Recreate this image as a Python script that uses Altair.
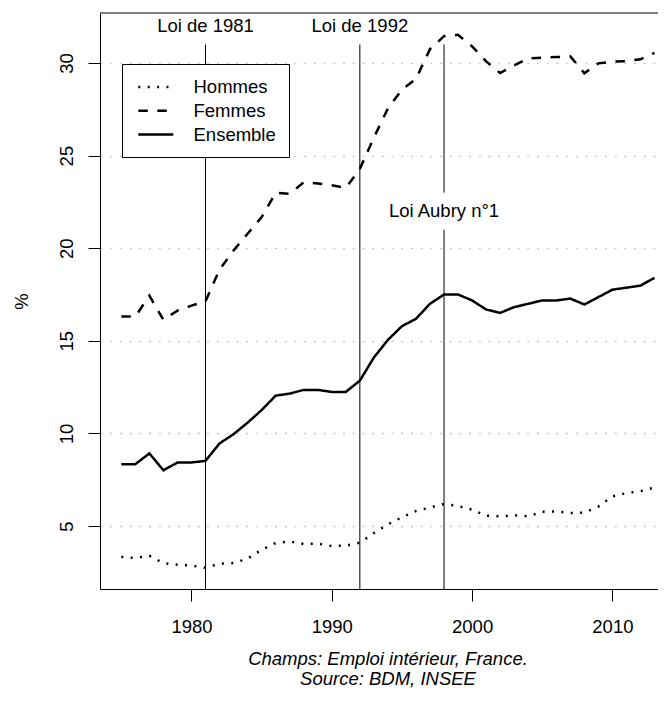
import altair as alt
import pandas as pd

years = list(range(1975, 2014))
hommes = [3.33, 3.27, 3.39, 3.00, 2.91, 2.87, 2.75, 2.97, 3.00, 3.24,
          3.72, 4.08, 4.17, 4.03, 4.05, 3.92, 3.94, 4.10, 4.62, 5.09,
          5.47, 5.81, 6.00, 6.19, 6.08, 5.88, 5.56, 5.52, 5.58, 5.52,
          5.77, 5.79, 5.70, 5.72, 6.05, 6.60, 6.78, 6.88, 7.08]
femmes = [16.31, 16.31, 17.44, 16.13, 16.63, 16.90, 17.14, 18.84, 19.88, 20.78,
          21.68, 22.99, 22.93, 23.56, 23.50, 23.40, 23.25, 24.28, 25.97, 27.55,
          28.56, 29.14, 30.75, 31.45, 31.52, 30.90, 30.09, 29.46, 29.87, 30.25,
          30.29, 30.32, 30.36, 29.45, 29.98, 30.07, 30.10, 30.20, 30.55]
ensemble = [8.34, 8.34, 8.92, 8.01, 8.43, 8.43, 8.52, 9.46, 9.96, 10.58,
            11.26, 12.04, 12.15, 12.35, 12.35, 12.24, 12.24, 12.85, 14.10, 15.05,
            15.79, 16.19, 17.00, 17.50, 17.50, 17.18, 16.69, 16.51, 16.82, 17.00,
            17.18, 17.18, 17.28, 16.96, 17.36, 17.76, 17.87, 17.98, 18.40]
series_order = ["Hommes", "Femmes", "Ensemble"]

# law markers (vertical segments) and their labels
law_year = [1981, 1992, 1998, 1998]
law_from = [0, 0, 0, 23]
law_to = [31, 31, 21, 31]
label_text = ["Loi de 1981", "Loi de 1992", "Loi Aubry n\u00b01"]
label_year = [1981, 1992, 1998]
label_level = [32, 32, 22]

x_ticks = [1980, 1990, 2000, 2010]
y_ticks = [5, 10, 15, 20, 25, 30]
caption = ["Champs: Emploi int\u00e9rieur, France.", "Source: BDM, INSEE"]

FONT = "Liberation Sans"
FS = 18.5
W, H = 558, 576

rows = []
for name, vals in zip(series_order, [hommes, femmes, ensemble]):
    for yr, v in zip(years, vals):
        rows.append({"year": yr, "value": v, "series": name})
df = pd.DataFrame(rows)
laws = pd.DataFrame({"year": law_year, "from": law_from, "to": law_to})
labels = pd.DataFrame({"year": label_year, "level": label_level, "text": label_text})

xscale = alt.Scale(domain=[1973.48, 2013.25], nice=False, zero=False)
yscale = alt.Scale(domain=[1.6, 32.7], nice=False, zero=False)

x_enc = alt.X("year:Q", scale=xscale,
              axis=alt.Axis(values=x_ticks, format="d", title=None, grid=False,
                            tickSize=12, labelPadding=16))
y_enc = alt.Y("value:Q", scale=yscale,
              axis=alt.Axis(values=y_ticks, title="%", grid=True,
                            gridDash=[2, 7.7], gridColor="#c8c8c8", gridWidth=1.6,
                            tickSize=12, labelAngle=270, labelAlign="center",
                            labelBaseline="alphabetic", labelPadding=16,
                            titleAngle=270, titleX=-73, titleY=288,
                            titleAlign="center", titleBaseline="alphabetic"))

lines = alt.Chart(df).mark_line(color="black", strokeWidth=2.5, clip=True).encode(
    x=x_enc,
    y=y_enc,
    strokeDash=alt.StrokeDash(
        "series:N",
        scale=alt.Scale(domain=series_order, range=[[2, 7.4], [9.5, 9.5], [1, 0]]),
        legend=alt.Legend(title=None, orient="none", legendX=22, legendY=51,
                          padding=13, strokeColor="black", fillColor="white",
                          cornerRadius=0, labelFontSize=FS, labelFont=FONT,
                          labelColor="black", symbolType="M-2,0H2",
                          symbolSize=306.25, symbolStrokeWidth=2.5,
                          symbolStrokeColor="black", symbolFillColor="transparent",
                          symbolOffset=10.8, labelOffset=27.7, rowPadding=3.75,
                          labelLimit=400),
    ),
)

rules = alt.Chart(laws).mark_rule(color="black", strokeWidth=1, clip=True).encode(
    x=alt.X("year:Q", scale=xscale),
    y=alt.Y("from:Q", scale=yscale),
    y2="to:Q",
)

texts = alt.Chart(labels).mark_text(font=FONT, fontSize=FS, color="black",
                                     align="center", baseline="middle").encode(
    x=alt.X("year:Q", scale=xscale),
    y=alt.Y("level:Q", scale=yscale),
    text="text:N",
)

top_edge = alt.Chart(pd.DataFrame({"edge": ["top"]})).mark_rule(
    color="black", strokeWidth=1).encode(
    x=alt.value(0), x2=alt.value(W), y=alt.value(0))

chart = alt.layer(rules, lines, texts, top_edge).properties(
    width=W, height=H,
    autosize=alt.AutoSizeParams(type="none"),
    padding={"left": 92, "top": 5, "right": 0, "bottom": 101},
    title=alt.TitleParams(text=caption, orient="bottom", anchor="middle",
                          frame="group", fontStyle="italic", fontWeight="normal",
                          fontSize=FS, font=FONT, color="black", lineHeight=20,
                          offset=14.5, dx=9),
).configure(font=FONT).configure_view(stroke=None).configure_axis(
    domainColor="black", domainWidth=1, tickColor="black", tickWidth=1,
    labelColor="black", titleColor="black", labelFont=FONT, titleFont=FONT,
    labelFontSize=FS, titleFontSize=FS, titleFontWeight="normal",
)

chart.save("out.html", embed_options={"renderer": "svg", "actions": False})
